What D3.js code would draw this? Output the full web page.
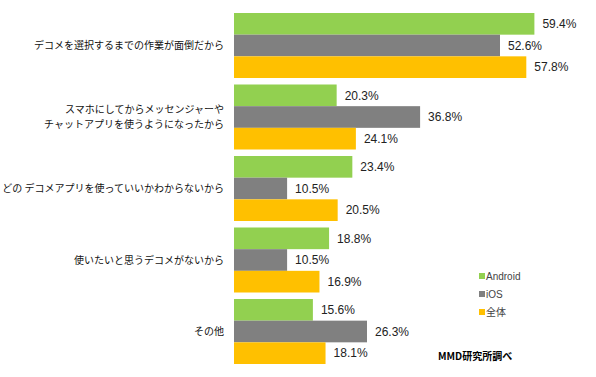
<!DOCTYPE html>
<html><head><meta charset="utf-8">
<script src="https://cdn.jsdelivr.net/npm/d3@7"></script>
<style>body{margin:0;background:#fff;}svg{display:block;}</style>
</head><body>
<svg id="c" width="596" height="377"></svg>
<script>
const categories = [
  ["デコメを選択するまでの作業が面倒だから"],
  ["スマホにしてからメッセンジャーや", "チャットアプリを使うようになったから"],
  ["どの デコメアプリを使っていいかわからないから"],
  ["使いたいと思うデコメがないから"],
  ["その他"]
];
const seriesNames = ["Android", "iOS", "全体"];
const android = [59.4, 20.3, 23.4, 18.8, 15.6];
const ios = [52.6, 36.8, 10.5, 10.5, 26.3];
const total = [57.8, 24.1, 20.5, 16.9, 18.1];
const colors = ["#92D050", "#808080", "#FFC000"];
const source = "MMD研究所調べ";

const series = [android, ios, total];
const svg = d3.select("#c");
const x = d3.scaleLinear().domain([0, 70]).range([234, 588]);
const y0 = d3.scaleBand().domain(d3.range(categories.length)).range([9.75, 367.25]).paddingInner(0.0909).paddingOuter(0.0455);
const y1 = d3.scaleBand().domain(d3.range(series.length)).range([0, y0.bandwidth()]);

const g = svg.append("g");
categories.forEach((cat, i) => {
  const gg = g.append("g").attr("transform", `translate(0,${y0(i)})`);
  series.forEach((s, j) => {
    gg.append("rect").attr("x", x(0)).attr("y", y1(j)).attr("width", x(s[i]) - x(0)).attr("height", y1.bandwidth()).attr("fill", colors[j]);
    gg.append("text").attr("x", x(s[i]) + 8).attr("y", y1(j) + y1.bandwidth() / 2).attr("dy", "0.36em")
      .attr("font-family", "Liberation Sans, Arial, sans-serif").attr("font-size", 12).attr("fill", "#222")
      .text(s[i].toFixed(1) + "%");
  });
  const cy = y0(i) + y0.bandwidth() / 2;
  const n = cat.length;
  cat.forEach((line, k) => {
    g.append("text").attr("x", 224).attr("y", cy + (k - (n - 1) / 2) * 15).attr("dy", "0.36em")
      .attr("text-anchor", "end").attr("font-family", "Noto Sans CJK JP, sans-serif").attr("font-size", 10)
      .attr("fill", "#111").text(line);
  });
});

const legend = svg.append("g");
seriesNames.forEach((name, j) => {
  const ly = 276 + j * 18;
  legend.append("rect").attr("x", 479).attr("y", ly - 3).attr("width", 6).attr("height", 6).attr("fill", colors[j]);
  legend.append("text").attr("x", 486).attr("y", ly).attr("dy", "0.36em")
    .attr("font-family", j === 2 ? "Noto Sans CJK JP, sans-serif" : "Liberation Sans, Arial, sans-serif")
    .attr("font-size", 10).attr("fill", "#444").text(name);
});
svg.append("text").attr("x", 438).attr("y", 356).attr("dy", "0.36em")
  .attr("font-family", "Noto Sans CJK JP, sans-serif").attr("font-size", 10).attr("font-weight", "bold")
  .attr("fill", "#000").text(source);
</script>
</body></html>
